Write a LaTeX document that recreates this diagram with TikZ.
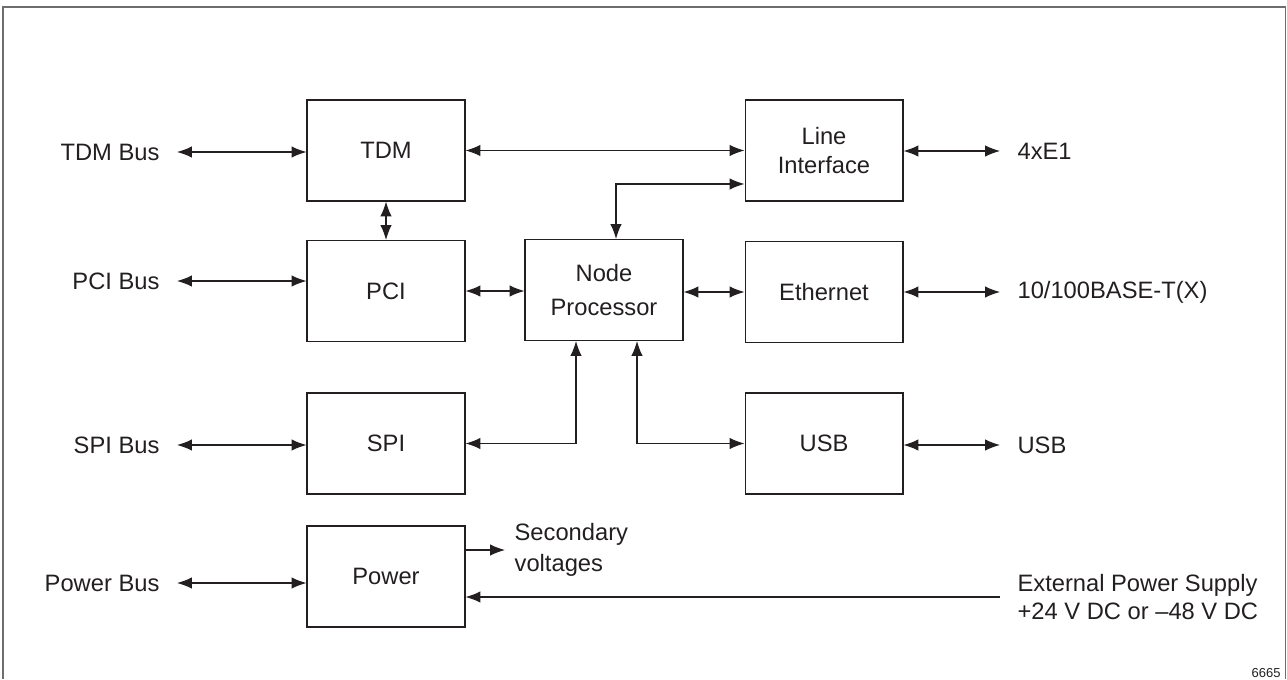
\documentclass[tikz,border=0pt]{standalone}
\usepackage{fontspec}
\setmainfont{Liberation Sans}
\usetikzlibrary{arrows.meta}
\definecolor{linec}{HTML}{231F20}
\definecolor{framec}{HTML}{6E6E6E}
\tikzset{
  blk/.style={draw=linec, line width=0.6pt, minimum width=3.16cm, minimum height=2.02cm, align=center},
  lbl/.style={inner sep=0pt, outer sep=10pt, align=left},
  bi/.style={draw=linec, line width=0.65pt, {Latex[length=8.5pt,width=6.5pt]}-{Latex[length=8.5pt,width=6.5pt]}},
  arr/.style={draw=linec, line width=0.65pt, -{Latex[length=8.5pt,width=6.5pt]}}
}
\begin{document}
\begin{tikzpicture}[x=0.02cm,y=-0.02cm,font=\fontsize{13.5pt}{16pt}\selectfont,text=linec]
\useasboundingbox (0,0) rectangle (1287,679);
\draw[color=framec,line width=0.8pt] (3,679) -- (3,7) -- (1285.5,7) -- (1285.5,679);

\node[blk] (tdm) at (386,150.5) {TDM};
\node[blk] (line) at (824,150.5) {Line\\Interface};
\node[blk] (pci) at (386,291) {\raisebox{-4pt}{PCI}};
\node[blk] (node) at (604,290) {Node\\[3pt]Processor};
\node[blk] (eth) at (824,292) {Ethernet};
\node[blk] (spi) at (386,443.5) {SPI};
\node[blk] (usb) at (824,443.5) {USB};
\node[blk] (pwr) at (386,576.5) {Power};

\node[lbl,anchor=east] (tdmbus) at (177,152) {TDM Bus};
\node[lbl,anchor=east] (pcibus) at (177,281) {PCI Bus};
\node[lbl,anchor=east] (spibus) at (177,445) {SPI Bus};
\node[lbl,anchor=east] (pwrbus) at (177,583) {Power Bus};

\node[lbl,anchor=west] (e1) at (1000,151) {4xE1};
\node[lbl,anchor=west] (ethx) at (1000,292) {10/100BASE-T(X)};
\node[lbl,anchor=west] (usbx) at (1000,445) {USB};
\node[lbl,anchor=west] (ext) at (1000,597) {External Power Supply\\+24 V DC or \textendash 48 V DC};
\node[lbl,anchor=west,outer sep=5.5pt] (sec) at (505,550) {Secondary\\[2pt]voltages};
\node[inner sep=0pt,anchor=east,font=\fontsize{7.4pt}{9pt}\selectfont] (fignum) at (1281,673) {6665};

\draw[bi] (tdmbus.east) -- (tdmbus.east -| tdm.west);
\draw[bi] (pcibus.east) -- (pcibus.east -| pci.west);
\draw[bi] (spibus.east) -- (spibus.east -| spi.west);
\draw[bi] (pwrbus.east) -- (pwrbus.east -| pwr.west);

\draw[bi] (line.east |- e1.west) -- (e1.west);
\draw[bi] (eth.east |- ethx.west) -- (ethx.west);
\draw[bi] (usb.east |- usbx.west) -- (usbx.west);

\draw[bi] (tdm) -- (line);
\draw[bi] (tdm) -- (pci);
\draw[bi] (pci) -- (pci -| node.west);
\draw[bi] (node.east |- eth) -- (eth);
\draw[bi] ([xshift=0.24cm]node.north) |- ([yshift=-0.67cm]line.west);
\draw[bi] ([xshift=-0.56cm]node.south) |- (spi.east);
\draw[bi] ([xshift=0.66cm]node.south) |- (usb.west);

\draw[arr] (sec.west -| pwr.east) -- (sec.west);
\draw[arr] (ext.west) -- (ext.west -| pwr.east);
\end{tikzpicture}
\end{document}
